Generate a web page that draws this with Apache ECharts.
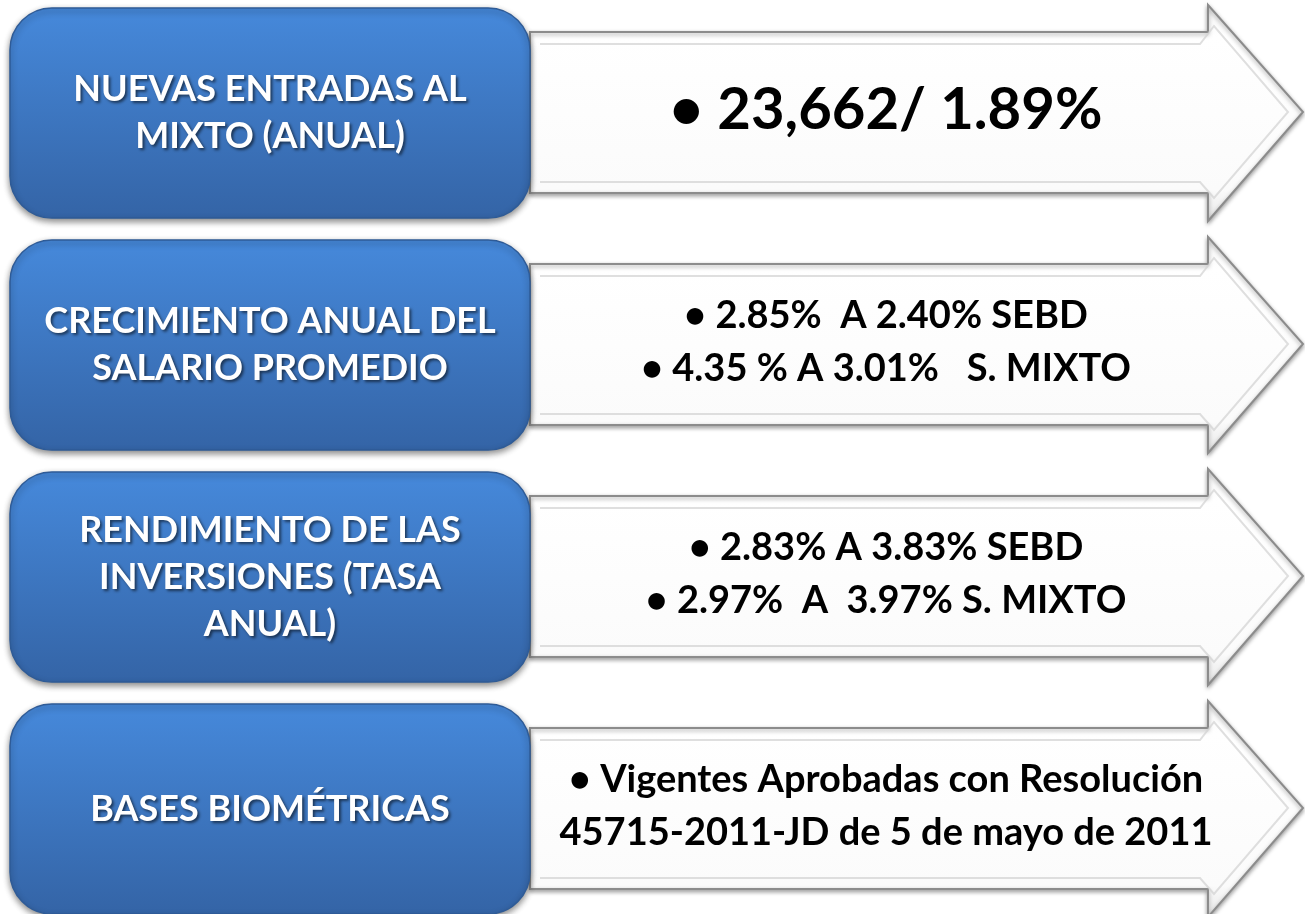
<!DOCTYPE html>
<html>
<head>
<meta charset="utf-8">
<script src="https://cdn.jsdelivr.net/npm/echarts@6/dist/echarts.min.js"></script>
<style>
    html, body { margin: 0; padding: 0; background: #fff; }
    #main { width: 1305px; height: 914px; }
</style>
</head>
<body>
<div id="main"></div>
<script>
    // textos de cada fila
    var leftLabels = [
        'NUEVAS ENTRADAS AL\nMIXTO (ANUAL)',
        'CRECIMIENTO ANUAL DEL\nSALARIO PROMEDIO',
        'RENDIMIENTO DE LAS\nINVERSIONES (TASA\nANUAL)',
        'BASES BIOMÉTRICAS'
    ];
    var rightLines = [
        ['• 23,662/ 1.89%'],
        ['• 2.85%  A 2.40% SEBD', '• 4.35 % A 3.01%   S. MIXTO'],
        ['• 2.83% A 3.83% SEBD', '• 2.97%  A  3.97% S. MIXTO'],
        ['• Vigentes Aprobadas con Resolución', '45715-2011-JD de 5 de mayo de 2011']
    ];

    var chart = echarts.init(document.getElementById('main'));

    var ROW_TOP = 8, ROW_STEP = 232, BOX_H = 210;
    var FONT = 'Lato, "Open Sans", sans-serif';

    function arrow(y0) {
        return {
            type: 'polygon',
            shape: {
                points: [
                    [530, y0 + 24], [1208, y0 + 24], [1208, y0 - 3],
                    [1303, y0 + 104],
                    [1208, y0 + 213], [1208, y0 + 185], [530, y0 + 185]
                ]
            },
            style: {
                fill: new echarts.graphic.LinearGradient(0, 0, 0, 1, [
                    {offset: 0, color: '#f4f4f4'},
                    {offset: 0.15, color: '#ffffff'},
                    {offset: 0.85, color: '#fbfbfb'},
                    {offset: 1, color: '#e6e6e6'}
                ]),
                stroke: '#8c8c8c',
                lineWidth: 2,
                shadowBlur: 4,
                shadowOffsetY: 2,
                shadowColor: 'rgba(0,0,0,0.35)'
            }
        };
    }

    function bevel(y0) {
        return {
            type: 'polyline',
            shape: {
                points: [[540, y0 + 36], [1200, y0 + 36], [1214, y0 + 18], [1288, y0 + 104], [1214, y0 + 190], [1200, y0 + 174], [540, y0 + 174]]
            },
            style: { fill: null, stroke: 'rgba(210,210,210,0.7)', lineWidth: 2 }
        };
    }

    function box(y0) {
        return {
            type: 'rect',
            shape: { x: 10, y: y0, width: 520, height: BOX_H, r: 42 },
            style: {
                fill: new echarts.graphic.LinearGradient(0, 0, 0, 1, [
                    {offset: 0, color: '#4689db'},
                    {offset: 1, color: '#3464a6'}
                ]),
                stroke: '#2e5b97',
                lineWidth: 1.5,
                shadowBlur: 6,
                shadowOffsetY: 3,
                shadowColor: 'rgba(0,0,0,0.45)'
            }
        };
    }

    var elements = [];
    leftLabels.forEach(function (label, i) {
        var y0 = ROW_TOP + i * ROW_STEP;
        var cy = y0 + BOX_H / 2;
        var lines = rightLines[i];
        var big = lines.length === 1;

        elements.push(arrow(y0), bevel(y0), box(y0));

        elements.push({
            type: 'text',
            style: {
                text: label,
                x: 270, y: cy,
                align: 'center', verticalAlign: 'middle',
                font: 'bold 36px ' + FONT,
                lineHeight: 47,
                fill: '#ffffff',
                textShadowColor: 'rgba(0,0,0,0.55)',
                textShadowBlur: 3,
                textShadowOffsetX: 2,
                textShadowOffsetY: 2
            }
        });

        elements.push({
            type: 'text',
            style: {
                text: lines.join('\n'),
                x: 886, y: cy - 3,
                align: 'center', verticalAlign: 'middle',
                font: big ? 'bold 58px ' + FONT : 'bold 38px ' + FONT,
                lineHeight: 53,
                fill: '#000000'
            }
        });
    });

    chart.setOption({
        backgroundColor: '#ffffff',
        graphic: { elements: elements }
    });
</script>
</body>
</html>
